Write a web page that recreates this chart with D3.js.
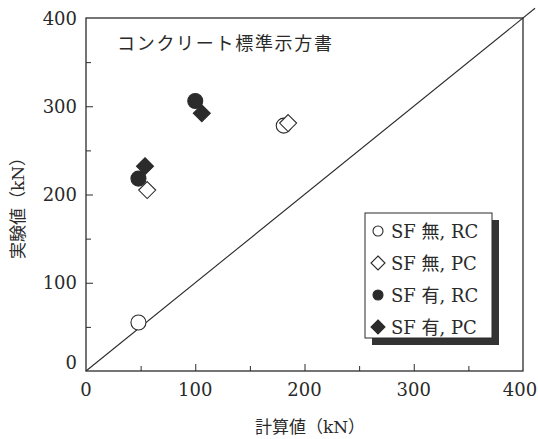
<!DOCTYPE html>
<html>
<head>
<meta charset="utf-8">
<script src="https://cdn.jsdelivr.net/npm/d3@7"></script>
<style>
  html, body { margin: 0; padding: 0; background: #fff; }
  svg { display: block; }
  text { font-family: "DejaVu Serif", "Noto Sans CJK JP", serif; fill: #2a2a2a; }
</style>
</head>
<body>
<svg id="chart" width="538" height="439"></svg>
<script>
// Shear capacity: calculated vs. experimental (kN)
const xTicks = [0, 100, 200, 300, 400];
const yTicks = [0, 100, 200, 300, 400];
const minorTicks = [50, 150, 250, 350];

const sfNoRC_calc  = [48, 181];
const sfNoRC_exp   = [55, 278];
const sfNoPC_calc  = [56, 185];
const sfNoPC_exp   = [205, 281];
const sfYesRC_calc = [48, 100];
const sfYesRC_exp  = [218, 306];
const sfYesPC_calc = [54, 106];
const sfYesPC_exp  = [232, 292];

const seriesLabels = ["SF 無, RC", "SF 無, PC", "SF 有, RC", "SF 有, PC"];
const equalLine = [0, 411];

const ink = "#2b2b2b";
const svg = d3.select("#chart");
const plotL = 86, plotR = 523, plotT = 18, plotB = 371;

const x = d3.scaleLinear().domain([0, 400]).range([plotL, plotR]);
const y = d3.scaleLinear().domain([0, 400]).range([plotB, plotT]);

// diagonal y = x
svg.append("line")
  .attr("x1", x(equalLine[0])).attr("y1", y(equalLine[0]))
  .attr("x2", x(equalLine[1])).attr("y2", y(equalLine[1]))
  .attr("stroke", ink).attr("stroke-width", 1.1);

// frame
svg.append("rect")
  .attr("x", plotL).attr("y", plotT)
  .attr("width", plotR - plotL).attr("height", plotB - plotT)
  .attr("fill", "none").attr("stroke", ink).attr("stroke-width", 1.3);

// inward ticks
const gx = svg.append("g").attr("transform", `translate(0,${plotB})`)
  .call(d3.axisTop(x).tickValues(xTicks.slice(1, -1)).tickSize(7).tickFormat(""));
const gxm = svg.append("g").attr("transform", `translate(0,${plotB})`)
  .call(d3.axisTop(x).tickValues(minorTicks).tickSize(5).tickFormat(""));
const gy = svg.append("g").attr("transform", `translate(${plotL},0)`)
  .call(d3.axisRight(y).tickValues(yTicks.slice(1, -1)).tickSize(7).tickFormat(""));
const gym = svg.append("g").attr("transform", `translate(${plotL},0)`)
  .call(d3.axisRight(y).tickValues(minorTicks).tickSize(5).tickFormat(""));
[gx, gxm, gy, gym].forEach(g => {
  g.select(".domain").remove();
  g.selectAll("line").attr("stroke", ink).attr("stroke-width", 1);
});

// tick labels (last one pulled in so it stays on the canvas)
svg.append("g").selectAll("text").data(xTicks).join("text")
  .attr("x", d => d === 400 ? x(d) - 3 : x(d)).attr("y", 396)
  .attr("text-anchor", "middle").attr("font-size", 18)
  .text(d => d);
svg.append("g").selectAll("text").data(yTicks).join("text")
  .attr("x", 77).attr("y", d => d === 0 ? y(d) - 2 : y(d) + 6.5)
  .attr("text-anchor", "end").attr("font-size", 18)
  .text(d => d);

// axis titles
svg.append("text").attr("x", 310).attr("y", 433)
  .attr("text-anchor", "middle").attr("font-size", 17)
  .text("計算値（kN）");
svg.append("text")
  .attr("transform", "translate(24,204) rotate(-90)")
  .attr("text-anchor", "middle").attr("font-size", 17)
  .attr("fill", "#555")
  .text("実験値（kN）");

// annotation
svg.append("text").attr("x", 117).attr("y", 50)
  .attr("font-size", 18).attr("textLength", 215)
  .text("コンクリート標準示方書");

// markers
const diamond = (cx, cy, h) => `M${cx},${cy - h}L${cx + h},${cy}L${cx},${cy + h}L${cx - h},${cy}Z`;
const rC = 7.5, hD = 8.5;

function circles(xs, ys, fill) {
  svg.append("g").selectAll("circle").data(xs).join("circle")
    .attr("cx", d => x(d)).attr("cy", (d, i) => y(ys[i])).attr("r", rC)
    .attr("fill", fill).attr("stroke", ink).attr("stroke-width", 1.1);
}
function diamonds(xs, ys, fill) {
  svg.append("g").selectAll("path").data(xs).join("path")
    .attr("d", (d, i) => diamond(x(d), y(ys[i]), hD))
    .attr("fill", fill).attr("stroke", ink).attr("stroke-width", 1.1);
}
circles(sfNoRC_calc, sfNoRC_exp, "#fff");
circles(sfYesRC_calc, sfYesRC_exp, ink);
diamonds(sfNoPC_calc, sfNoPC_exp, "#fff");
diamonds(sfYesPC_calc, sfYesPC_exp, ink);

// legend with drop shadow
const lx = 365, ly = 213, lw = 127, lh = 125;
svg.append("rect").attr("x", lx + 7).attr("y", ly + 7).attr("width", lw).attr("height", lh)
  .attr("fill", "#333");
svg.append("rect").attr("x", lx).attr("y", ly).attr("width", lw).attr("height", lh)
  .attr("fill", "#fff").attr("stroke", ink).attr("stroke-width", 1);

const rowY = i => 231 + i * 32;
const legend = svg.append("g");
seriesLabels.forEach((lab, i) => {
  const cy = rowY(i), cx = 378;
  if (i === 0 || i === 2) {
    legend.append("circle").attr("cx", cx).attr("cy", cy).attr("r", 5)
      .attr("fill", i === 2 ? ink : "#fff").attr("stroke", ink).attr("stroke-width", 1.1);
  } else {
    legend.append("path").attr("d", diamond(cx, cy, 7))
      .attr("fill", i === 3 ? ink : "#fff").attr("stroke", ink).attr("stroke-width", 1.1);
  }
  legend.append("text").attr("x", 391).attr("y", cy + 6.5)
    .attr("font-size", 18).text(lab);
});
</script>
</body>
</html>
